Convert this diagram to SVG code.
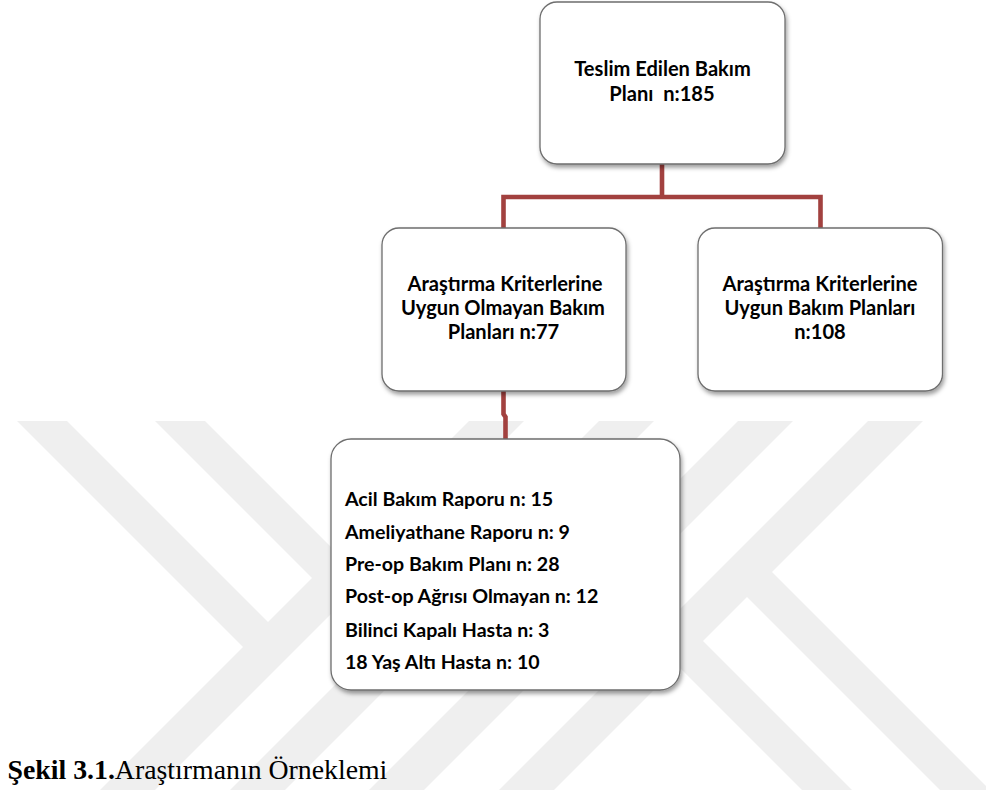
<svg xmlns="http://www.w3.org/2000/svg" width="986" height="796" viewBox="0 0 986 796">
<style>
.wm{fill:#efefef;stroke:none}
.box{fill:#ffffff;stroke:#6e6e6e;stroke-width:1.3;filter:url(#sh)}
.t{font-family:Lato,"Open Sans","DejaVu Sans",sans-serif;font-weight:700;font-size:20.1px;fill:#000}
.s{font-size:19.6px}
.c{text-anchor:middle}
.con{fill:none;stroke:#a2413f;stroke-width:4.6;stroke-linejoin:miter;stroke-linecap:butt}
.cap{font-family:"Liberation Serif","Times New Roman",serif;font-size:27.8px;fill:#000}
</style>
<defs>
<filter id="sh" x="-10%" y="-10%" width="125%" height="130%">
<feDropShadow dx="1.5" dy="3" stdDeviation="2.2" flood-color="#000" flood-opacity="0.38"/>
</filter>
</defs>
<rect x="0" y="0" width="986" height="796" fill="#ffffff"/>
<g id="watermark">
<polygon class="wm" points="469,421 524,421 155,790 100,790"/>
<polygon class="wm" points="599,421 654,421 285,790 230,790"/>
<polygon class="wm" points="738,421 793,421 424,790 369,790"/>
<polygon class="wm" points="868,421 923,421 554,790 499,790"/>
<polygon class="wm" points="755,555 990,790 940,790 730,580"/>
<polygon class="wm" points="686,624 852,790 802,790 661,649"/>
<polygon class="wm" points="17,421 67,421 285.5,639.5 260.5,664.5"/>
<polygon class="wm" points="155,421 205,421 354.5,570.5 329.5,595.5"/>
</g>
<g id="connectors">
<path class="con" d="M662 164 V197 M503.5 228 V197 H820.5 V228"/>
<path class="con" d="M503.5 391 V414 L505.5 417 V439"/>
</g>
<g id="node-total">
<rect class="box" x="540" y="2" width="245" height="162" rx="17"/>
<text class="t c" x="662.5" y="76.4">Teslim Edilen Bakım</text>
<text class="t c" x="662" y="100.8" style="white-space:pre">Planı  n:185</text>
</g>
<g id="node-excluded">
<rect class="box" x="382" y="228" width="244" height="163" rx="17"/>
<text class="t c" x="505" y="290.6">Araştırma Kriterlerine</text>
<text class="t c" x="503" y="315">Uygun Olmayan Bakım</text>
<text class="t c" x="503.5" y="339.4">Planları n:77</text>
</g>
<g id="node-included">
<rect class="box" x="698" y="228" width="244.5" height="163" rx="17"/>
<text class="t c" x="820" y="290.6">Araştırma Kriterlerine</text>
<text class="t c" x="820" y="315">Uygun Bakım Planları</text>
<text class="t c" x="820" y="339.4">n:108</text>
</g>
<g id="node-reasons">
<rect class="box" x="331" y="439" width="349" height="251" rx="20"/>
<text class="t s" x="345" y="506">Acil Bakım Raporu n: 15</text>
<text class="t s" x="345" y="539">Ameliyathane Raporu n: 9</text>
<text class="t s" x="345" y="571.3">Pre-op Bakım Planı n: 28</text>
<text class="t s" x="345" y="603.3">Post-op Ağrısı Olmayan n: 12</text>
<text class="t s" x="345" y="636.7">Bilinci Kapalı Hasta n: 3</text>
<text class="t s" x="345" y="669">18 Yaş Altı Hasta n: 10</text>
</g>
<g id="caption">
<text class="cap" x="7.5" y="779"><tspan font-weight="700">Şekil 3.1.</tspan>Araştırmanın Örneklemi</text>
</g>
</svg>
